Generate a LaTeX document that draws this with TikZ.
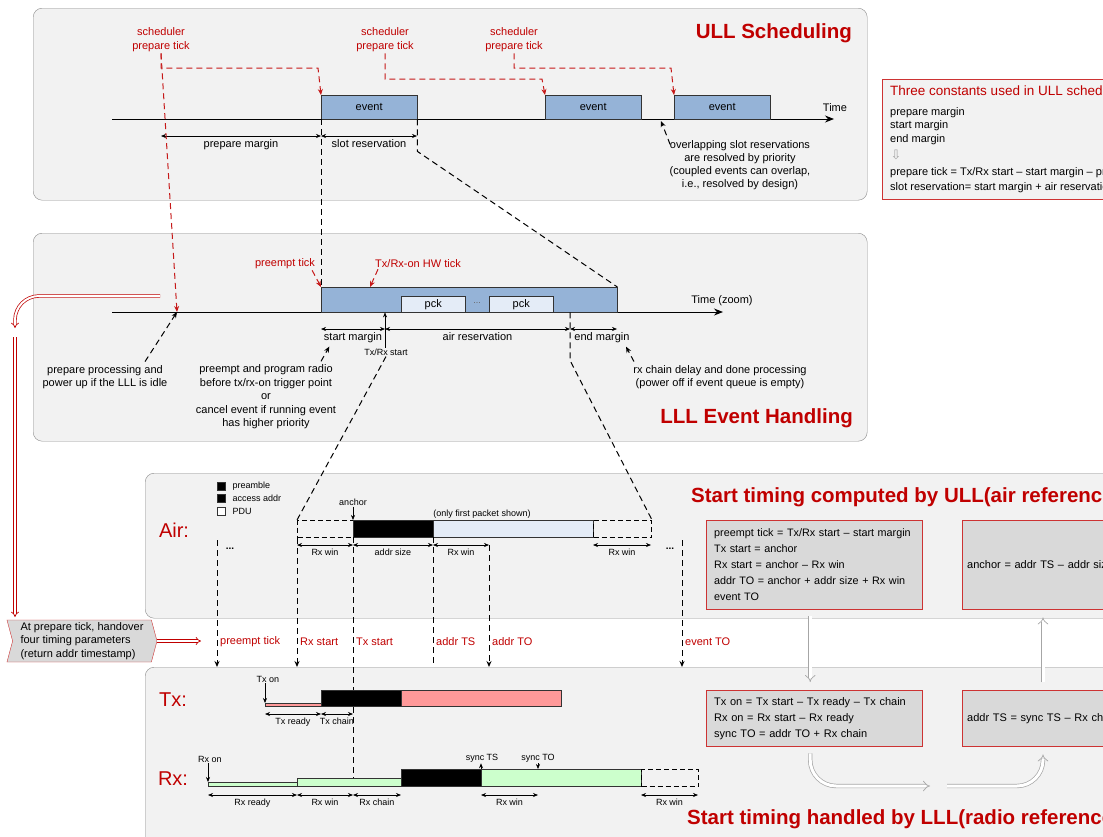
\documentclass[tikz,border=0pt]{standalone}
\usepackage{fontspec}
\setmainfont{Liberation Sans}
\newfontfamily\arrowfont{DejaVu Sans}
\usepackage{xcolor}
\usepackage{tikz}
\usetikzlibrary{arrows, arrows.meta, shapes.symbols, calc}

\definecolor{ullred}{HTML}{C00000}
\definecolor{panelbg}{HTML}{F2F2F2}
\definecolor{evblue}{HTML}{95B3D7}
\definecolor{pckblue}{HTML}{E4ECF7}
\definecolor{txpink}{HTML}{FF9999}
\definecolor{rxgreen}{HTML}{CCFFCC}
\definecolor{calcgray}{HTML}{D9D9D9}

\begin{document}
\begin{tikzpicture}[
    x=1pt, y=-1pt,
    font=\fontsize{11}{13.5}\selectfont,
    panel/.style={draw=black!45, fill=panelbg, rounded corners=9pt, anchor=north west, inner sep=0},
    title/.style={font=\fontsize{20.5}{24}\selectfont\bfseries, text=ullred, inner sep=0},
    rowname/.style={font=\fontsize{20}{24}\selectfont, text=ullred, inner sep=0},
    redlbl/.style={text=ullred, font=\fontsize{11}{14}\selectfont, inner sep=1pt},
    smalltxt/.style={font=\fontsize{9}{10}\selectfont, inner sep=1pt},
    bar/.style={draw=black!80, anchor=north west, inner sep=0},
    evbox/.style={bar, fill=evblue, minimum width=96, minimum height=24},
    pckbox/.style={bar, fill=pckblue, minimum width=64, minimum height=16},
    winbox/.style={bar, draw=black, line width=1pt, dash pattern=on 5pt off 3pt, minimum height=17},
    calcbox/.style={draw=ullred!80, fill=calcgray, anchor=north west, inner sep=0},
    timeline/.style={-{Stealth[length=9pt, width=7pt]}, line width=0.9pt},
    dim/.style={{Stealth[length=5pt, width=4pt]}-{Stealth[length=5pt, width=4pt]}, line width=0.6pt},
    ptr/.style={-{Stealth[length=5pt, width=4pt]}, line width=0.6pt},
    guide/.style={line width=1pt, dash pattern=on 6pt off 4pt},
    guidearrow/.style={guide, -{Stealth[length=6pt, width=5pt]}},
    redguide/.style={guidearrow, draw=ullred!90},
    redpipe/.style={draw=ullred, double=white, double distance=2pt, line width=0.7pt, -implies},
    graypipe/.style={draw=black!35, double=white, double distance=3pt, line width=0.7pt, -implies}
]
\clip (0,0) rectangle (1103,836);

% Panels
\node[panel, minimum width=834, minimum height=192] (ullpanel) at (33,8) {};
\node[panel, minimum width=834, minimum height=208] (lllpanel) at (33,233) {};
\node[panel, minimum width=1000, minimum height=145] (airpanel) at (145,473) {};
\node[panel, minimum width=1000, minimum height=230] (radiopanel) at (145,667) {};

% ULL scheduling
\node[title, anchor=east] (ulltitle) at (852,33) {ULL Scheduling};
\draw[timeline] (112,119) -- (834,119);
\node (ulltime) at (835,108) {Time};
\node[evbox] (ev1) at (321,95) {event};
\node[evbox] (ev2) at (545,95) {event};
\node[evbox] (ev3) at (674,95) {event};
\node[redlbl, align=center] (sched1) at (161,40) {scheduler\\prepare tick};
\node[redlbl, align=center] (sched2) at (385,40) {scheduler\\prepare tick};
\node[redlbl, align=center] (sched3) at (514,40) {scheduler\\prepare tick};
\draw[redguide] (sched1.south) |- ([shift={(-3,-27)}]ev1.north west) -- (ev1.north west);
\draw[redguide] (sched2.south) |- ([shift={(-3,-16)}]ev2.north west) -- (ev2.north west);
\draw[redguide] (sched3.south) |- ([shift={(-3,-27)}]ev3.north west) -- (ev3.north west);
\draw[dim] (161,136) -- node[below] {prepare margin} (321,136);
\draw[dim] (321,136) -- node[below] {slot reservation} (417,136);

\node[align=center, font=\fontsize{11}{13.2}\selectfont] (overlap) at (740,165)
  {overlapping slot reservations\\are resolved by priority\\(coupled events can overlap,\\i.e., resolved by design)};
\coordinate (slotgap) at (661,121);
\draw[guidearrow] ([shift={(4,8)}]overlap.north west) -- (slotgap);

% Constants box
\node[calcbox, fill=panelbg, minimum width=300, minimum height=120] (constbox) at (882,79) {};
\node[anchor=west, inner sep=0, text=ullred, font=\fontsize{13.5}{15}\selectfont] (consttitle) at (890,92)
  {Three constants used in ULL scheduling};
\node[anchor=west, inner sep=0, align=left] (constlist) at (890,126) {prepare margin\\start margin\\end margin};
\node[inner sep=0, text=black!35, font=\arrowfont\fontsize{13}{13}\selectfont] (constarrow) at (896,155) {⇩};
\node[anchor=west, inner sep=0, align=left] (constfml) at (890,180)
  {prepare tick = Tx/Rx start -- start margin -- prepare margin\\[1pt]slot reservation= start margin + air reservation + end margin};

% LLL event handling
\node[title, anchor=east] (llltitle) at (853,418) {LLL Event Handling};
\draw[timeline] (112,312) -- (723,312);
\node (llltime) at (722,301) {Time (zoom)};
\node[bar, fill=evblue, minimum width=296, minimum height=25] (lllbar) at (321,287) {};
\node[pckbox] (pck1) at (401,296) {pck};
\node[pckbox] (pck2) at (489,296) {pck};
\node[smalltxt, text=black!60] (pckdots) at (477,303) {...};
\node[redlbl] (preempt) at (285,264) {preempt tick};
\node[redlbl] (hwtick) at (418,264) {Tx/Rx-on HW tick};
\draw[redguide] ([xshift=-4pt]preempt.south east) -- (lllbar.north west);
\draw[redguide] ([xshift=4pt]hwtick.south west) -- ([xshift=49pt]lllbar.north west);

\draw[dim] (321,329) -- node[below] (smlbl) {start margin} (385,329);
\draw[dim] (385,329) -- node[below] (arlbl) {air reservation} (570,329);
\draw[dim] (570,329) -- (617,329);
\node (endmargin) at (602,338) {end margin};
\node[smalltxt] (txrxstart) at (386,352) {Tx/Rx start};
\draw[ptr] ([xshift=-1pt]txrxstart.north) -- ([xshift=64pt]lllbar.south west);

\draw[guide] (ev1.south west) -- (lllbar.north west);
\draw[guide] (ev1.south east) -- ++(0,32) -- (lllbar.north east);

\node[align=center] (prepnote) at (105,377) {prepare processing and\\power up if the LLL is idle};
\coordinate (prepdot) at (177,312);
\draw[guidearrow] ([xshift=40pt]prepnote.north) -- (prepdot);
\draw[redguide] (sched1.south) -- (prepdot);
\node[align=center] (radionote) at (266,397)
  {preempt and program radio\\before tx/rx-on trigger point\\or\\cancel event if running event\\has higher priority};
\draw[guidearrow] ([xshift=55pt]radionote.north) -- ([xshift=9pt]smlbl.south west);
\node[align=center] (rxnote) at (720,377) {rx chain delay and done processing\\(power off if event queue is empty)};
\draw[guidearrow] ([xshift=-86pt]rxnote.north) -- ([xshift=-7pt]endmargin.south east);

% Handover to LLL
\coordinate (lllhook) at (160,296);
\coordinate (handtop) at (15,617);
\draw[redpipe, rounded corners=24pt] (lllhook) -- (15,296) -- (15,328);
\draw[redpipe] (15,337) -- (handtop);
\node[signal, signal from=west, signal to=east, signal pointer angle=150, draw=ullred!80, fill=calcgray,
      minimum width=150, minimum height=42, inner sep=1pt, align=left] (handover) at (82,641)
  {At prepare tick, handover\\four timing parameters\\(return addr timestamp)};
\coordinate (handend) at (201,641);
\draw[redpipe] (handover.east) -- (handend);

% Air
\node[rowname] (airname) at (174,530) {Air:};
\node[bar, fill=black, minimum size=8] (legpre) at (217,482) {};
\node[smalltxt, anchor=west] (legpretxt) at ([xshift=6pt]legpre.east) {preamble};
\node[bar, fill=black, minimum size=8] (legaddr) at (217,494) {};
\node[smalltxt, anchor=west] (legaddrtxt) at ([xshift=6pt]legaddr.east) {access addr};
\node[bar, fill=white, minimum size=8] (legpdu) at (217,507) {};
\node[smalltxt, anchor=west] (legpdutxt) at ([xshift=6pt]legpdu.east) {PDU};

\node[winbox, minimum width=56] (airwin1) at (297,520) {};
\node[bar, fill=black, minimum width=80, minimum height=17] (airaddr) at (353,520) {};
\node[bar, fill=pckblue, minimum width=160, minimum height=17] (airpdu) at (433,520) {};
\node[winbox, minimum width=58] (airwin2) at (593,520) {};
\node[smalltxt] (anchorlbl) at (353,502) {anchor};
\draw[ptr] (anchorlbl.south) -- (airaddr.north west);
\node[smalltxt] (onlyfirst) at (482,514) {(only first packet shown)};

\draw[guide] (txrxstart.south) -- (airwin1.north west);
\draw[guide] ([xshift=249pt]lllbar.south west) -- ++(0,48) -- (airwin2.north east);

\draw[dim] (297,545) -- node[smalltxt, below=3pt] {Rx win} (353,545);
\draw[dim] (353,545) -- node[smalltxt, below=3pt] {addr size} (433,545);
\draw[dim] (433,545) -- node[smalltxt, below=3pt] {Rx win} (489,545);
\draw[dim] (593,545) -- node[smalltxt, below=3pt] {Rx win} (651,545);
\node[font=\bfseries] (airdotsL) at (230,549) {...};
\node[font=\bfseries] (airdotsR) at (670,549) {...};

% Time markers handed over
\coordinate (mkpre) at (217,540);
\coordinate (mkaddrto) at (489,545);
\coordinate (mkevent) at (682,540);
\draw[guidearrow] (mkpre) -- (mkpre |- radiopanel.north);
\draw[guidearrow] (airwin1.south west) -- (airwin1.south west |- radiopanel.north);
\draw[guide] (airaddr.south west) -- ++(0,249);
\draw[guide] (airpdu.south west) -- (airpdu.south west |- radiopanel.north);
\draw[guidearrow] (mkaddrto) -- (mkaddrto |- radiopanel.north);
\draw[guidearrow] (mkevent) -- (mkevent |- radiopanel.north);
\node[redlbl, anchor=west] (lblpreempt) at (219,642) {preempt tick};
\node[redlbl, anchor=west] (lblrxstart) at (299,642) {Rx start};
\node[redlbl, anchor=west] (lbltxstart) at (355,642) {Tx start};
\node[redlbl, anchor=west] (lbladdrts) at (435,642) {addr TS};
\node[redlbl, anchor=west] (lbladdrto) at (491,642) {addr TO};
\node[redlbl, anchor=west] (lbleventto) at (684,642) {event TO};

% Timing computed by ULL
\node[title, anchor=west] (ulltiming) at (691,497) {Start timing computed by ULL(air reference)};
\node[calcbox, minimum width=216, minimum height=89, text width=208, inner xsep=4pt, align=left,
      font=\fontsize{10.8}{16}\selectfont] (upcalc1) at (706,520)
  {\hspace*{4pt}preempt tick = Tx/Rx start -- start margin\\\hspace*{4pt}Tx start = anchor\\\hspace*{4pt}Rx start = anchor -- Rx win\\\hspace*{4pt}addr TO = anchor + addr size + Rx win\\\hspace*{4pt}event TO};
\node[calcbox, minimum width=300, minimum height=89, text width=290, inner xsep=5pt, align=left] (upcalc2) at (962,520)
  {anchor = addr TS -- addr size};

% Timing handled by LLL
\node[rowname] (txname) at (173,700) {Tx:};
\node[rowname] (rxname) at (173,779) {Rx:};
\node[title, anchor=west] (llltiming) at (687,819) {Start timing handled by LLL(radio reference)};
\node[calcbox, minimum width=216, minimum height=56, text width=200, inner xsep=8pt, align=left,
      font=\fontsize{11}{16}\selectfont] (lowcalc1) at (706,690)
  {Tx on = Tx start -- Tx ready -- Tx chain\\Rx on = Rx start -- Rx ready\\sync TO = addr TO + Rx chain};
\node[calcbox, minimum width=300, minimum height=56, text width=290, inner xsep=5pt, align=left] (lowcalc2) at (962,690)
  {addr TS = sync TS -- Rx chain};

\coordinate (loopmid1) at (930,786);
\coordinate (loopmid2) at (947,786);
\draw[graypipe] ([shift={(-4,7)}]upcalc1.south) -- ([shift={(-4,-8)}]lowcalc1.north);
\draw[graypipe] ([shift={(81,-8)}]lowcalc2.north west) -- ([shift={(81,8)}]upcalc2.south west);
\draw[graypipe, rounded corners=26pt] ([shift={(-4,7)}]lowcalc1.south) |- (loopmid1);
\draw[graypipe, rounded corners=26pt] (loopmid2) -| ([shift={(81,8)}]lowcalc2.south west);

% Tx row
\node[bar, fill=txpink, minimum width=56, minimum height=3] (txready) at (265,703) {};
\node[bar, fill=black, minimum width=80, minimum height=16] (txpre) at (321,690) {};
\node[bar, fill=txpink, minimum width=160, minimum height=16] (txpdu) at (401,690) {};
\node[smalltxt] (txon) at (268,679) {Tx on};
\draw[ptr] ([xshift=-3pt]txon.south) -- (txready.north west);
\draw[dim] (265,714) -- node[smalltxt, below=3pt] {Tx ready} (321,714);
\draw[dim] (321,714) -- node[smalltxt, below=3pt] {Tx chain} (353,714);

% Rx row
\node[bar, fill=rxgreen, minimum width=89, minimum height=4] (rxready) at (208,782) {};
\node[bar, fill=rxgreen, minimum width=104, minimum height=8] (rxwin) at (297,778) {};
\node[bar, fill=black, minimum width=80, minimum height=17] (rxpre) at (401,769) {};
\node[bar, fill=rxgreen, minimum width=160, minimum height=17] (rxpdu) at (481,769) {};
\node[winbox, minimum width=57] (rxwin2) at (641,769) {};
\node[smalltxt] (rxon) at (210,759) {Rx on};
\draw[ptr] ([xshift=-2pt]rxon.south) -- (rxready.north west);
\node[smalltxt] (syncts) at (482,758) {sync TS};
\draw[ptr] (rxpdu.north west) -- (syncts.south -| rxpdu.north west);
\node[smalltxt] (syncto) at (538,758) {sync TO};
\draw[ptr] (syncto.south) -- ([xshift=57pt]rxpdu.north west);
\draw[dim] (208,795) -- node[smalltxt, below=3pt] {Rx ready} (297,795);
\draw[dim] (297,795) -- node[smalltxt, below=3pt] {Rx win} (353,795);
\draw[dim] (353,795) -- node[smalltxt, below=3pt] {Rx chain} (401,795);
\draw[dim] (481,795) -- node[smalltxt, below=3pt] {Rx win} (538,795);
\draw[dim] (641,795) -- node[smalltxt, below=3pt] {Rx win} (698,795);
\end{tikzpicture}
\end{document}
